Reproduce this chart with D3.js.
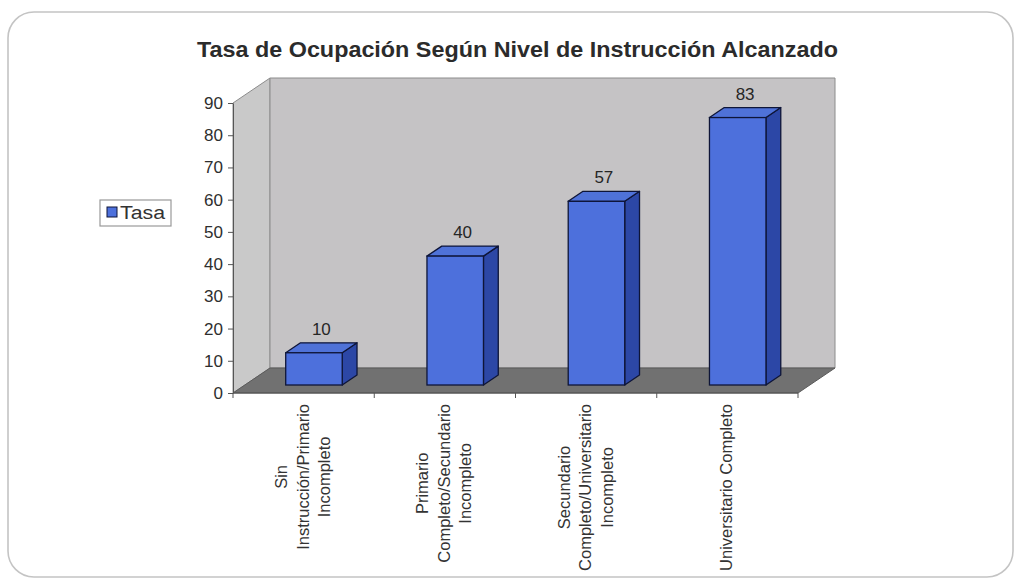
<!DOCTYPE html>
<html>
<head>
<meta charset="utf-8">
<script src="https://cdn.jsdelivr.net/npm/d3@7"></script>
<style>
  html, body { margin: 0; padding: 0; background: #ffffff; }
  svg { display: block; font-family: "Liberation Sans", Arial, sans-serif; }
</style>
</head>
<body>
<script>
// ---- data ----
const categories = [
  "Sin Instrucción/Primario Incompleto",
  "Primario Completo/Secundario Incompleto",
  "Secundario Completo/Universitario Incompleto",
  "Universitario Completo"
];
const categoryLines = [
  ["Sin", "Instrucción/Primario", "Incompleto"],
  ["Primario", "Completo/Secundario", "Incompleto"],
  ["Secundario", "Completo/Universitario", "Incompleto"],
  ["Universitario Completo"]
];
const values = [10, 40, 57, 83];
const yTicks = [0, 10, 20, 30, 40, 50, 60, 70, 80, 90];
const seriesName = "Tasa";
const title = "Tasa de Ocupación Según Nivel de Instrucción Alcanzado";

// ---- layout ----
const W = 1018, H = 580;
const svg = d3.select("body").append("svg").attr("width", W).attr("height", H);

// outer rounded frame
svg.append("rect").attr("x", 8).attr("y", 12).attr("width", 1005).attr("height", 565)
  .attr("rx", 26).attr("fill", "#fff").attr("stroke", "#c4c4c4").attr("stroke-width", 1.6);

const depth = { dx: 37, dy: -25 };
const y = d3.scaleLinear().domain([0, 90]).range([393, 103]);
const x = d3.scaleBand().domain(categories).range([233, 798]).paddingInner(0.6).paddingOuter(0.3);
const xL = 233, xR = 798, y0 = y(0), yT = y(90);

const pts = a => a.map(p => p.join(",")).join(" ");

// side (left) wall
svg.append("polygon")
  .attr("points", pts([[xL, yT], [xL + depth.dx, yT + depth.dy], [xL + depth.dx, y0 + depth.dy], [xL, y0]]))
  .attr("fill", "#c9c9c9").attr("stroke", "#8c8c8c").attr("stroke-width", 1);
// back wall
svg.append("polygon")
  .attr("points", pts([[xL + depth.dx, yT + depth.dy], [xR + depth.dx, yT + depth.dy], [xR + depth.dx, y0 + depth.dy], [xL + depth.dx, y0 + depth.dy]]))
  .attr("fill", "#c5c3c5").attr("stroke", "#8c8c8c").attr("stroke-width", 1);
// floor
svg.append("polygon")
  .attr("points", pts([[xL, y0], [xR, y0], [xR + depth.dx, y0 + depth.dy], [xL + depth.dx, y0 + depth.dy]]))
  .attr("fill", "#717171").attr("stroke", "#5a5a5a").attr("stroke-width", 1);

// y axis
const yAxis = d3.axisLeft(y).tickValues(yTicks).tickSize(5).tickSizeOuter(0).tickPadding(5);
const gy = svg.append("g").attr("transform", `translate(${xL},0)`).call(yAxis);
gy.select(".domain").attr("stroke", "#555");
gy.selectAll(".tick line").attr("stroke", "#555");
gy.selectAll(".tick text").attr("font-size", 17).attr("fill", "#2e2e2e")
  .attr("font-family", "'Liberation Sans', Arial, sans-serif");

// x axis (front floor edge) with category boundary ticks
svg.append("line").attr("x1", xL).attr("x2", xR).attr("y1", y0).attr("y2", y0)
  .attr("stroke", "#555");
const bounds = d3.range(categories.length + 1).map(i => xL + i * (xR - xL) / categories.length);
svg.selectAll("line.xt").data(bounds).join("line").attr("class", "xt")
  .attr("x1", d => d).attr("x2", d => d).attr("y1", y0).attr("y2", y0 + 5)
  .attr("stroke", "#555");

// bars
const f1 = 0.32, f2 = 0.72;
const bw = x.bandwidth();
const ddx = (f2 - f1) * depth.dx, ddy = (f2 - f1) * depth.dy;
const bars = svg.append("g");
categories.forEach((c, i) => {
  const v = values[i];
  const X = x(c) + f1 * depth.dx - 1.5;
  const Yt = y(v) + f1 * depth.dy;
  const Yb = y(0) + f1 * depth.dy;
  const g = bars.append("g");
  g.append("polygon")
    .attr("points", pts([[X + bw, Yt], [X + bw + ddx, Yt + ddy], [X + bw + ddx, Yb + ddy], [X + bw, Yb]]))
    .attr("fill", "#2c47a6").attr("stroke", "#0e1538").attr("stroke-width", 1.3).attr("stroke-linejoin", "round");
  g.append("polygon")
    .attr("points", pts([[X, Yt], [X + bw, Yt], [X + bw + ddx, Yt + ddy], [X + ddx, Yt + ddy]]))
    .attr("fill", "#4f72d8").attr("stroke", "#0e1538").attr("stroke-width", 1.3).attr("stroke-linejoin", "round");
  g.append("rect").attr("x", X).attr("y", Yt).attr("width", bw).attr("height", Yb - Yt)
    .attr("fill", "#4d70dc").attr("stroke", "#0e1538").attr("stroke-width", 1.3);
  // data label
  svg.append("text")
    .attr("x", X + bw / 2 + ddx / 2)
    .attr("y", Yt + ddy - 8)
    .attr("text-anchor", "middle").attr("font-size", 17).attr("fill", "#262626")
    .text(v);
});

// category labels (rotated)
const lh = 21.5;
categoryLines.forEach((lines, i) => {
  const cx = x(categories[i]) + bw / 2 - 1;
  const g = svg.append("g");
  const t = g.append("text").attr("font-size", 16.5).attr("fill", "#333")
    .attr("text-anchor", "middle");
  lines.forEach((ln, j) => {
    t.append("tspan").attr("x", 0).attr("y", (j - (lines.length - 1) / 2) * lh)
      .attr("dominant-baseline", "central").text(ln);
  });
  let L = 0;
  t.selectAll("tspan").each(function () { L = Math.max(L, this.getComputedTextLength()); });
  g.attr("transform", `translate(${cx},${404 + L / 2}) rotate(-90)`);
});

// legend
svg.append("rect").attr("x", 100).attr("y", 200).attr("width", 71).attr("height", 26)
  .attr("fill", "#fff").attr("stroke", "#999").attr("stroke-width", 1.2);
svg.append("rect").attr("x", 107).attr("y", 207).attr("width", 10).attr("height", 10)
  .attr("fill", "#4d70dc").attr("stroke", "#0e1538").attr("stroke-width", 1);
svg.append("text").attr("x", 120).attr("y", 219).attr("font-size", 18).attr("fill", "#333")
  .attr("textLength", 45).attr("lengthAdjust", "spacingAndGlyphs")
  .text(seriesName);

// title
svg.append("text").attr("x", 517.5).attr("y", 57).attr("text-anchor", "middle")
  .attr("font-size", 22).attr("font-weight", "bold").attr("fill", "#2b2b2b")
  .attr("textLength", 641).attr("lengthAdjust", "spacingAndGlyphs")
  .text(title);
</script>
</body>
</html>
